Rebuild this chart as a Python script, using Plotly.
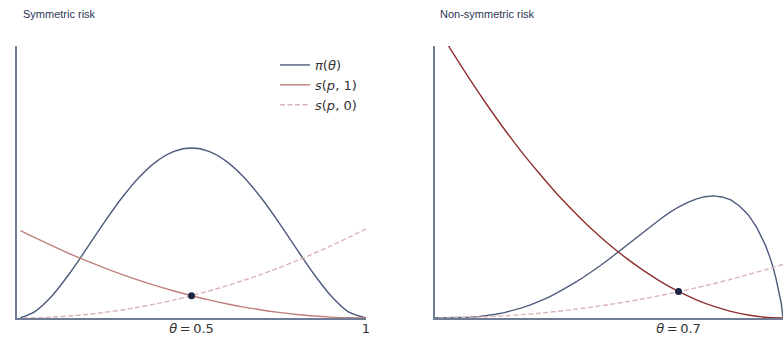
import plotly.graph_objects as go

# ---- data ----
theta = [0.01, 0.05, 0.10, 0.15, 0.20, 0.25, 0.30, 0.35, 0.40, 0.45, 0.50,
         0.55, 0.60, 0.65, 0.70, 0.75, 0.80, 0.85, 0.90, 0.95, 1.00]

# Symmetric risk panel
sym_prior = [0.001, 0.0226, 0.081, 0.1626, 0.256, 0.3516, 0.441, 0.5176, 0.576, 0.6126, 0.625,
             0.6126, 0.576, 0.5176, 0.441, 0.3516, 0.256, 0.1626, 0.081, 0.0226, 0.0]
sym_s1 = [0.3215, 0.296, 0.2657, 0.237, 0.2099, 0.1845, 0.1607, 0.1386, 0.1181, 0.0992, 0.082,
          0.0664, 0.0525, 0.0402, 0.0295, 0.0205, 0.0131, 0.0074, 0.0033, 0.0008, 0.0]
sym_s0 = [0.00003, 0.0008, 0.0033, 0.0074, 0.0131, 0.0205, 0.0295, 0.0402, 0.0525, 0.0664, 0.082,
          0.0992, 0.1181, 0.1386, 0.1607, 0.1845, 0.2099, 0.237, 0.2657, 0.296, 0.328]
sym_point = (0.5, 0.082)

# Non-symmetric risk panel
theta_prior_ns = [0.0, 0.025, 0.05, 0.075, 0.10, 0.125, 0.15, 0.175, 0.20, 0.225, 0.25,
                  0.275, 0.30, 0.325, 0.35, 0.375, 0.40, 0.425, 0.45, 0.475, 0.50,
                  0.525, 0.55, 0.575, 0.60, 0.625, 0.65, 0.675, 0.70, 0.725, 0.75,
                  0.775, 0.80, 0.825, 0.85, 0.875, 0.90, 0.925, 0.95, 0.96, 0.97,
                  0.98, 0.99, 0.995, 1.00]
ns_prior = [0.0, 0.00004, 0.0004, 0.0012, 0.0027, 0.0052, 0.0088, 0.0136, 0.0198, 0.0276, 0.037,
            0.0479, 0.06, 0.075, 0.0915, 0.1087, 0.128, 0.148, 0.169, 0.192, 0.216,
            0.241, 0.266, 0.292, 0.317, 0.342, 0.366, 0.388, 0.408, 0.424, 0.437,
            0.446, 0.449, 0.445, 0.434, 0.412, 0.380, 0.332, 0.266, 0.232, 0.193,
            0.145, 0.088, 0.054, 0.0]
ns_s1 = [1.063, 0.979, 0.879, 0.784, 0.694, 0.610, 0.532, 0.458, 0.391, 0.328, 0.271,
         0.220, 0.174, 0.133, 0.0977, 0.0678, 0.0434, 0.0244, 0.0109, 0.0027, 0.0]
ns_s0 = [0.00002, 0.0005, 0.002, 0.0044, 0.0079, 0.0123, 0.0177, 0.0241, 0.0315, 0.0399, 0.0493,
         0.0596, 0.0709, 0.0832, 0.0965, 0.1108, 0.1261, 0.1423, 0.1596, 0.1778, 0.197]
ns_point = (0.7, 0.097)

titles = ["Symmetric risk", "Non-symmetric risk"]
ticktext_left = ["<i>θ</i>\u2009=\u20090.5", "1"]
ticktext_right = ["<i>θ</i>\u2009=\u20090.7", "1"]

# ---- styles ----
C_PRIOR = "#4d5b7b"
C_S1_LEFT = "#bf7f7b"
C_S1_RIGHT = "#8e3030"
C_S0 = "#dbb4b4"
C_DOT = "#1b2442"
C_AXIS = "#6e7c96"
C_TEXT = "#333333"
MATHFONT = "DejaVu Sans"
DASH = "5px,2.5px"

W, H = 784, 338


def px(xp):
    return xp / W


def py(yp):
    return 1 - yp / H


fig = go.Figure()

# left panel
fig.add_trace(go.Scatter(x=theta, y=sym_prior, mode="lines", name="<i>π</i>(<i>θ</i>)",
                         line=dict(color=C_PRIOR, width=1.4, shape="spline", smoothing=0.8),
                         xaxis="x", yaxis="y"))
fig.add_trace(go.Scatter(x=theta, y=sym_s1, mode="lines", name="<i>s</i>(<i>p</i>, 1)",
                         line=dict(color=C_S1_LEFT, width=1.4, shape="spline", smoothing=0.8),
                         xaxis="x", yaxis="y"))
fig.add_trace(go.Scatter(x=theta[::-1], y=sym_s0[::-1], mode="lines", name="<i>s</i>(<i>p</i>, 0)",
                         line=dict(color=C_S0, width=1.4, dash=DASH, shape="spline", smoothing=0.8),
                         xaxis="x", yaxis="y"))
fig.add_trace(go.Scatter(x=[sym_point[0]], y=[sym_point[1]], mode="markers", showlegend=False,
                         marker=dict(color=C_DOT, size=7), xaxis="x", yaxis="y"))

# right panel
fig.add_trace(go.Scatter(x=theta_prior_ns, y=ns_prior, mode="lines", showlegend=False,
                         line=dict(color=C_PRIOR, width=1.4, shape="linear"),
                         xaxis="x2", yaxis="y2"))
fig.add_trace(go.Scatter(x=theta, y=ns_s1, mode="lines", showlegend=False,
                         line=dict(color=C_S1_RIGHT, width=1.4, shape="spline", smoothing=0.8),
                         xaxis="x2", yaxis="y2"))
fig.add_trace(go.Scatter(x=theta[::-1], y=ns_s0[::-1], mode="lines", showlegend=False,
                         line=dict(color=C_S0, width=1.4, dash=DASH, shape="spline", smoothing=0.8),
                         xaxis="x2", yaxis="y2"))
fig.add_trace(go.Scatter(x=[ns_point[0]], y=[ns_point[1]], mode="markers", showlegend=False,
                         marker=dict(color=C_DOT, size=7), xaxis="x2", yaxis="y2"))

ydom = [py(318), py(46)]
xd1 = [px(17), px(366)]
xd2 = [px(434.7), px(783)]


def xax(domain, anchor, ticktext, tickvals):
    return dict(domain=domain, anchor=anchor, range=[0, 1], showgrid=False, zeroline=False,
                showline=True, linecolor=C_AXIS, linewidth=2, ticks="",
                tickvals=tickvals, ticktext=ticktext, automargin=False,
                ticklabelstandoff=-3,
                tickfont=dict(family=MATHFONT, size=13, color=C_TEXT))


def yax(anchor):
    return dict(domain=ydom, anchor=anchor, range=[0, 1], showgrid=False, zeroline=False,
                showline=True, linecolor=C_AXIS, linewidth=2, showticklabels=False, ticks="",
                automargin=False)


fig.update_layout(
    width=W, height=H,
    margin=dict(l=0, r=0, t=0, b=0),
    paper_bgcolor="white", plot_bgcolor="white",
    xaxis=xax(xd1, "y", ticktext_left, [sym_point[0], 1]),
    yaxis=yax("x"),
    xaxis2=xax(xd2, "y2", ticktext_right, [ns_point[0], 1]),
    yaxis2=yax("x2"),
    legend=dict(x=px(275), y=py(50), xanchor="left", yanchor="top",
                bgcolor="rgba(0,0,0,0)", font=dict(family=MATHFONT, size=13, color=C_TEXT),
                tracegroupgap=0, itemwidth=30),
    annotations=[
        dict(text=titles[0], x=px(21), y=py(14), xref="paper", yref="paper",
             xanchor="left", yanchor="middle", showarrow=False,
             font=dict(family="Liberation Sans", size=11, color="#2b3654")),
        dict(text=titles[1], x=px(438), y=py(14), xref="paper", yref="paper",
             xanchor="left", yanchor="middle", showarrow=False,
             font=dict(family="Liberation Sans", size=11, color="#2b3654")),
    ],
)

fig.write_html(
    "out.html",
    config={"displayModeBar": False},
    post_script="document.body.style.margin='0';document.body.style.overflow='hidden';",
)
